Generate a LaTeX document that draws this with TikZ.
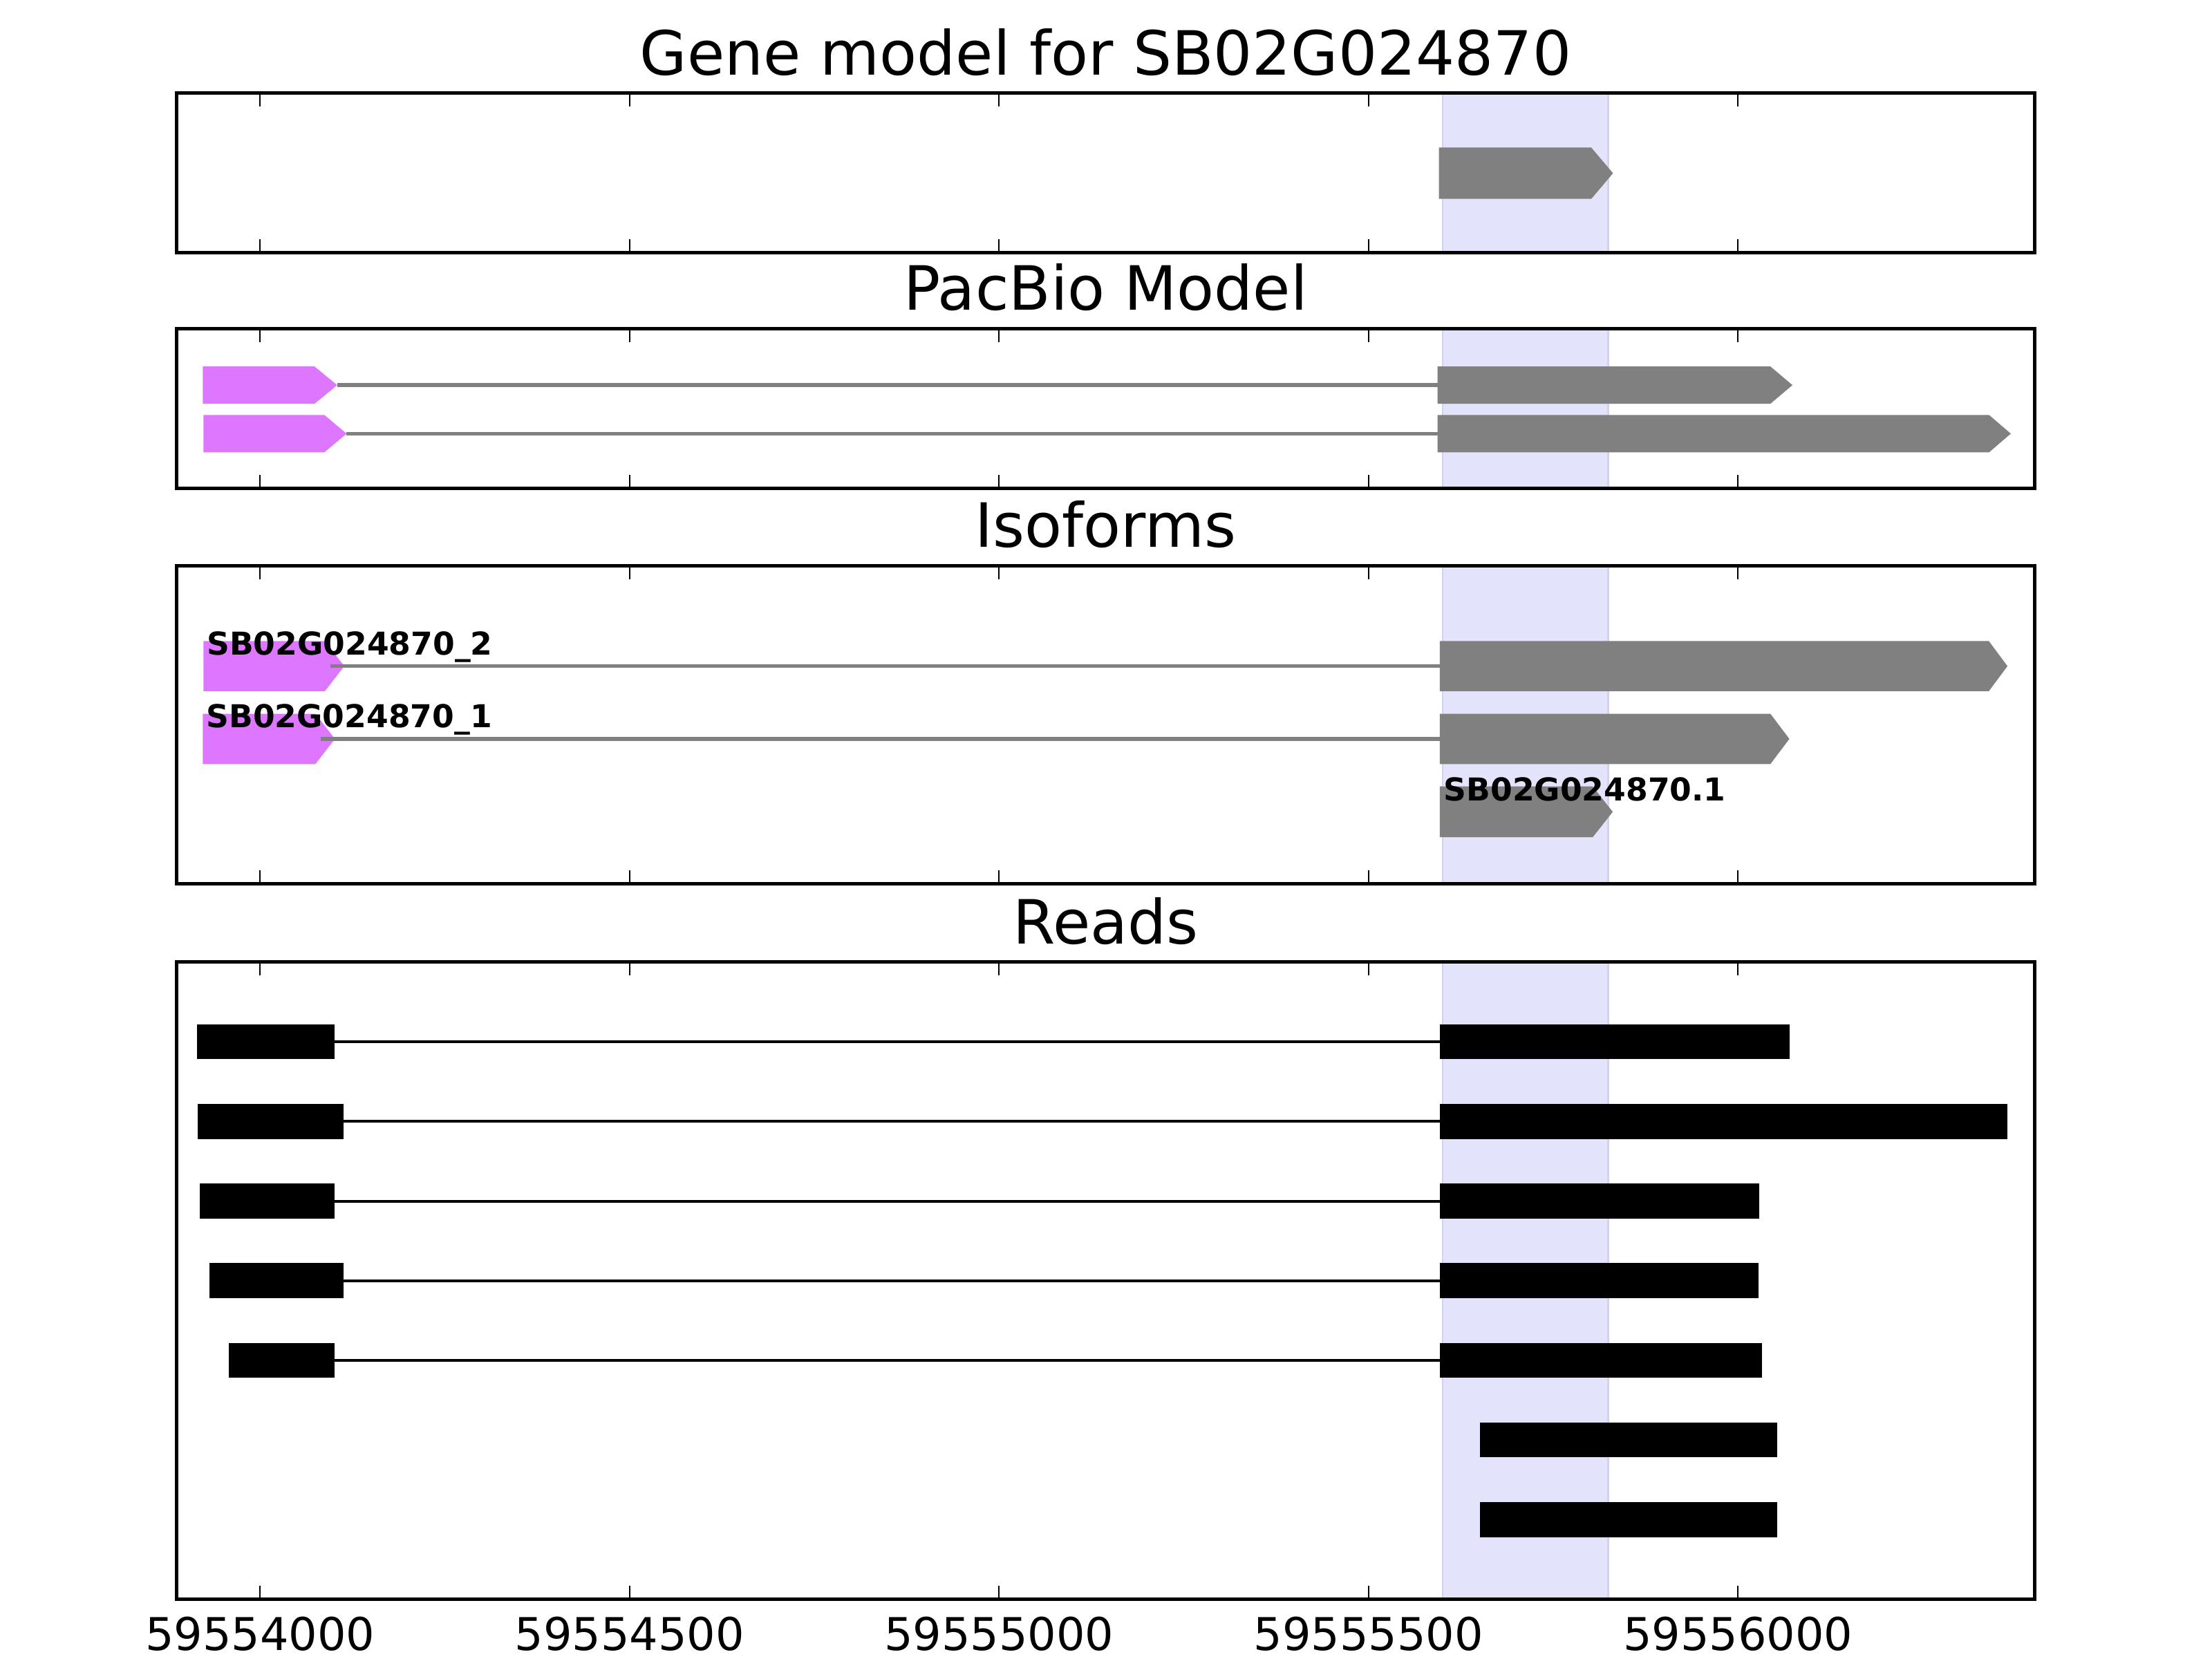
\documentclass[tikz,border=0pt]{standalone}
\usepackage{fontspec}
\setmainfont{DejaVu Sans}

\definecolor{exonpink}{RGB}{221,119,255}
\definecolor{exongray}{RGB}{128,128,128}
\definecolor{hilite}{RGB}{227,227,251}
\definecolor{hiliteedge}{RGB}{210,210,238}

\tikzset{
  panelframe/.style={draw=black, line width=0.7pt},
  tickmark/.style={draw=black, line width=0.3pt},
  intron/.style={draw=exongray, line width=0.75pt},
  readline/.style={draw=black, line width=0.55pt},
  readblock/.style={fill=black},
  hiliteband/.style={fill=hilite, draw=hiliteedge, line width=0.3pt},
  paneltitle/.style={anchor=base, inner sep=0pt, font=\fontsize{12.3pt}{14pt}\selectfont},
  ticklabel/.style={anchor=base, inner sep=0pt, font=\fontsize{9.1pt}{11pt}\selectfont},
  isolabel/.style={anchor=base west, inner sep=0pt, font=\fontsize{6.35pt}{7.5pt}\selectfont\bfseries}
}

% colour, start, arrow start, tip, centre y, half height, name
\newcommand{\exonarrow}[7]{%
  \fill[#1] (#2,#5-#6) -- (#3,#5-#6) -- (#4,#5) -- (#3,#5+#6) -- (#2,#5+#6) -- cycle;
  \coordinate (#7s) at (#2,#5);
  \coordinate (#7t) at (#4,#5);}

\begin{document}
\begin{tikzpicture}[x=0.01cm, y=-0.01cm]
\useasboundingbox (0,0) rectangle (1568,1176);

% highlighted window
\foreach \ytop/\ybot in {66/179, 233/346, 401/626.5, 682/1133.5}
  \filldraw[hiliteband] (1022.5,\ytop) rectangle (1140,\ybot);

% titles
\node[paneltitle] (tgene) at (783.8,53) {Gene model for SB02G024870};
\node[paneltitle] (tpac) at (783.8,220) {PacBio Model};
\node[paneltitle] (tiso) at (783.8,388) {Isoforms};
\node[paneltitle] (tread) at (783.8,669) {Reads};

% gene model
\exonarrow{exongray}{1020}{1128}{1143.4}{122.8}{18.2}{gm}

% pacbio model
\exonarrow{exonpink}{143.8}{223}{239}{273}{13.2}{pbaa}
\exonarrow{exongray}{1019}{1255}{1270.6}{273}{13.2}{pbab}
\exonarrow{exonpink}{144.2}{230}{245.7}{307.4}{13.2}{pbba}
\exonarrow{exongray}{1019}{1410}{1425.4}{307.4}{13.2}{pbbb}
\draw[intron] (pbaat) -- (pbabs);
\draw[intron] (pbbat) -- (pbbbs);

% isoforms
\exonarrow{exonpink}{144.2}{230.3}{244}{472.2}{17.8}{isaa}
\exonarrow{exongray}{1020.6}{1409.8}{1423}{472.2}{17.8}{isab}
\exonarrow{exonpink}{143.8}{223.6}{237.4}{523.8}{17.8}{isba}
\exonarrow{exongray}{1020.6}{1255}{1268.4}{523.8}{17.8}{isbb}
\exonarrow{exongray}{1020.6}{1129}{1143.2}{575.5}{18}{isc}
\draw[intron] ([xshift=-0.1cm]isaat) -- (isabs);
\draw[intron] ([xshift=-0.1cm]isbat) -- (isbbs);
\node[isolabel] (isotwo) at (146,464.3) {SB02G024870\_2};
\node[isolabel] (isoone) at (145.6,515.8) {SB02G024870\_1};
\node[isolabel] (isogm) at (1022.8,567.5) {SB02G024870.1};

% reads
\foreach \i/\a/\b/\c/\d in {0/139.6/237/1020.6/1268.8, 1/140/243.3/1020.6/1423.1,
    2/141.6/237/1020.6/1247.2, 3/148.6/243.3/1020.6/1246.7, 4/162.1/237/1020.6/1249}{
  \pgfmathsetmacro{\y}{738.5+56.45*\i}
  \coordinate (ra\i) at (\b,\y);
  \coordinate (rb\i) at (\c,\y);
  \draw[readline] (ra\i) -- (rb\i);
  \fill[readblock] (\a,\y-12.4) rectangle (ra\i |- 0,\y+12.4);
  \fill[readblock] (rb\i |- 0,\y-12.4) rectangle (\d,\y+12.4);
}
\foreach \i in {5,6}{
  \pgfmathsetmacro{\y}{738.5+56.45*\i}
  \fill[readblock] (1049,\y-12.4) rectangle (1260,\y+12.4);
}

% frames and ticks
\foreach \ytop/\ybot in {66/179, 233/346, 401/626.5, 682/1133.5}{
  \foreach \tx in {184.4,446.3,708.2,970.1,1232}{
    \draw[tickmark] (\tx,\ytop) -- ++(0,9.5);
    \draw[tickmark] (\tx,\ybot) -- ++(0,-9.5);
  }
  \draw[panelframe] (125.2,\ytop) rectangle (1442.4,\ybot);
}
\foreach \tx/\lab [count=\k] in {184.4/59554000, 446.3/59554500, 708.2/59555000,
    970.1/59555500, 1232/59556000}
  \node[ticklabel] (tl\k) at (\tx,1170) {\lab};
\end{tikzpicture}
\end{document}
